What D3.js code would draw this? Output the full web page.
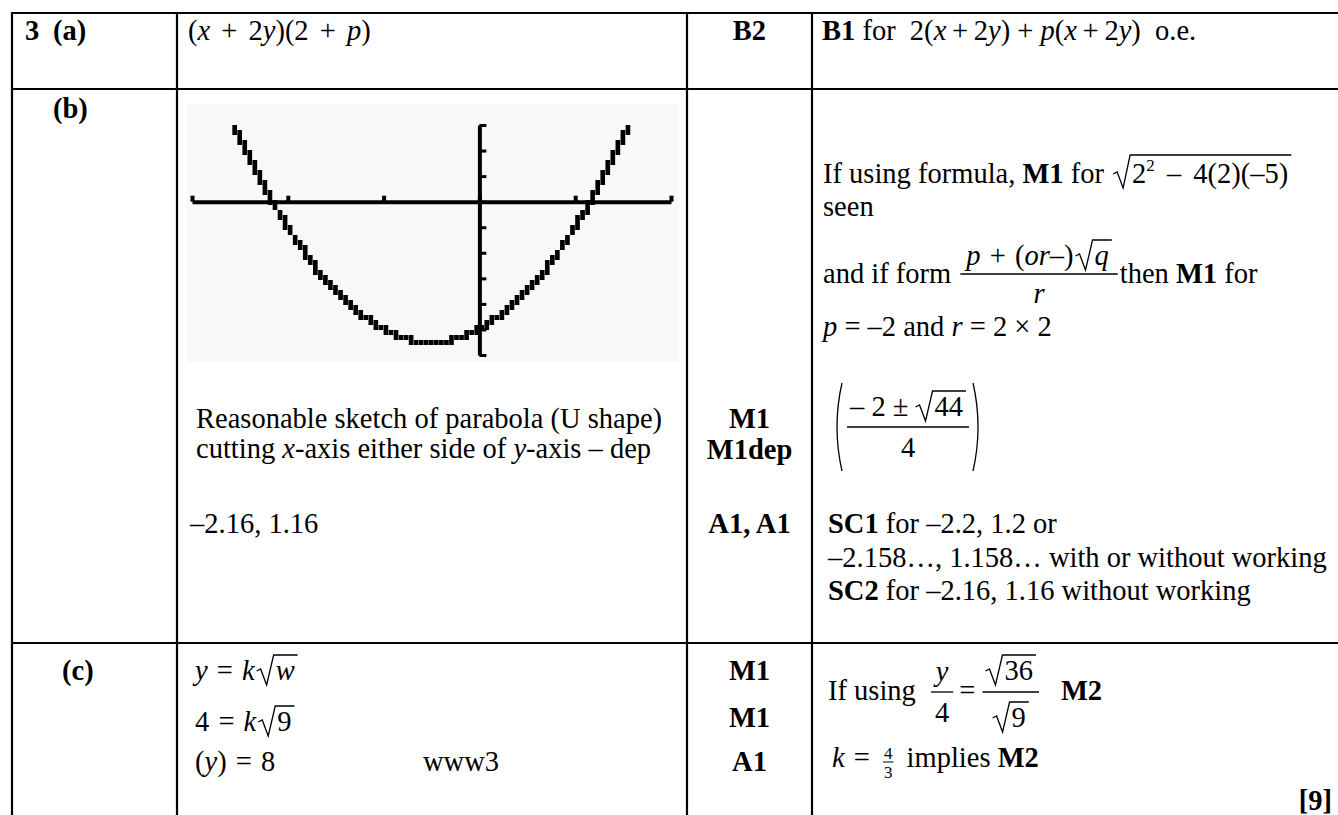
<!DOCTYPE html>
<html>
<head>
<meta charset="utf-8">
<script src="https://cdn.jsdelivr.net/npm/d3@7"></script>
<style>
  body { margin: 0; background: #fff; }
  svg text { font-family: "Liberation Serif", "Times New Roman", serif; font-size: 28.5px; fill: #000; }
</style>
</head>
<body>
<div id="chart"></div>
<script>
const W = 1338, H = 815;

// calculator window of the sketch
const xDomain = [-3, 2];
const yDomain = [-6, 3];
const xTicks = [-3, -2, -1, 0, 1, 2];
const yTicks = [-6, -5, -4, -3, -2, -1, 0, 1, 2, 3];

// points
const curveX = [-2.56, -2.4, -2.2, -2.0, -1.8, -1.6, -1.4, -1.2, -1.0, -0.8, -0.6, -0.4, -0.2, 0, 0.2, 0.4, 0.6, 0.8, 1.0, 1.2, 1.4, 1.56];
const curveY = [3.0, 1.7, 0.3, -1.0, -2.1, -3.1, -3.9, -4.5, -5.0, -5.3, -5.5, -5.5, -5.3, -5.0, -4.5, -3.9, -3.1, -2.1, -1.0, 0.3, 1.7, 3.0];

// mark column labels
const marksB = ["M1", "M1dep"];
const marksC = ["M1", "M1", "A1"];

const svg = d3.select("#chart").append("svg").attr("width", W).attr("height", H);

// ---- text helpers ----
function rich(p, x, y, segs, anchor) {
  const t = p.append("text").attr("x", x).attr("y", y)
    .attr("text-anchor", anchor || "start").style("white-space", "pre");
  let lift = 0;
  segs.forEach(([str, f = ""]) => {
    const sp = t.append("tspan").text(str);
    if (f.includes("b")) sp.attr("font-weight", "bold");
    if (f.includes("i")) sp.attr("font-style", "italic");
    if (f.includes("s")) sp.attr("font-size", 17);
    if (f.includes("^")) { sp.attr("font-size", 17).attr("dy", -12); lift = 12; }
    else if (lift) { sp.attr("dy", lift); lift = 0; }
  });
  return t;
}
const len = t => t.node().getComputedTextLength();

function root(p, x, base, segs, top, ws) {
  const t = rich(p, x + 19, base, segs);
  if (ws) t.style("word-spacing", ws + "px");
  const w = len(t);
  top = top == null ? base - 25 : top;
  p.append("path")
    .attr("d", `M${x},${base - 9}L${x + 4},${base - 11}L${x + 10},${base + 5}L${x + 17},${top}H${x + 22 + w}`)
    .attr("fill", "none").attr("stroke", "#000").attr("stroke-width", 1.3);
  return 22 + w;
}

function frac(p, x, barY, numFn, denFn, o = {}) {
  const gN = p.append("g"), gD = p.append("g");
  const wN = numFn(gN, barY - (o.up || 9));
  const wD = denFn(gD, barY + (o.down || 28));
  const w = Math.max(wN, wD) + (o.pad || 6);
  gN.attr("transform", `translate(${x + (w - wN) / 2},0)`);
  gD.attr("transform", `translate(${x + (w - wD) / 2},0)`);
  p.append("line").attr("x1", x).attr("x2", x + w).attr("y1", barY).attr("y2", barY)
    .attr("stroke", "#000").attr("stroke-width", o.sw || 1.3);
  return x + w;
}
const word = segs => (g, b) => len(rich(g, 0, b, segs));

// ---- table grid ----
const colEdges = [12, 177, 687, 812];
const rowEdges = [13, 89, 643];
svg.selectAll("line.hr").data(rowEdges).enter().append("line")
  .attr("x1", 11).attr("x2", W).attr("y1", d => d).attr("y2", d => d)
  .attr("stroke", "#000").attr("stroke-width", 2.2);
svg.selectAll("line.vr").data(colEdges).enter().append("line")
  .attr("x1", d => d).attr("x2", d => d).attr("y1", 12).attr("y2", H)
  .attr("stroke", "#000").attr("stroke-width", 2.2);

// ---- column 1 ----
rich(svg, 25, 40, [["3", "b"]]);
rich(svg, 53, 40, [["(a)", "b"]]);
rich(svg, 53, 118, [["(b)", "b"]]);
rich(svg, 62, 680, [["(c)", "b"]]);

// ---- column 2 ----
rich(svg, 188, 40, [["("], ["x", "i"], [" + 2"], ["y", "i"], [")(2 + "], ["p", "i"], [")"]]).style("word-spacing", "4px");

// sketch
const gx = d3.scaleLinear().domain(xDomain).range([192, 671]);
const gy = d3.scaleLinear().domain(yDomain).range([355, 125]);
svg.append("rect").attr("x", 187).attr("y", 104).attr("width", 492).attr("height", 258).attr("fill", "#f8f8f8");

const ax = svg.append("g").attr("transform", `translate(0,${gy(0)})`)
  .call(d3.axisBottom(gx).tickValues(xTicks).tickSize(-6).tickSizeOuter(0).tickFormat(""));
ax.select(".domain").attr("stroke-width", 4);
ax.selectAll(".tick line").attr("stroke-width", 4);

const ay = svg.append("g").attr("transform", `translate(${gx(0)},0)`)
  .call(d3.axisRight(gy).tickValues(yTicks).tickSize(7).tickSizeOuter(0).tickFormat(""));
ay.select(".domain").attr("stroke-width", 4);
ay.selectAll(".tick line").attr("stroke-width", 3);

// curve: trace the line through the read points, then show it on the calculator pixel grid
const pts = curveX.map((x, i) => [x, curveY[i]]);
const guide = svg.append("path").datum(pts).attr("fill", "none").attr("stroke", "none")
  .attr("d", d3.line().x(d => gx(d[0])).y(d => gy(d[1])).curve(d3.curveNatural));
const cellW = (gx(xDomain[1]) - gx(xDomain[0])) / 95, cellH = (gy(yDomain[0]) - gy(yDomain[1])) / 46;
const x0 = gx(xDomain[0]), y0 = gy(yDomain[1]);
const node = guide.node(), total = node.getTotalLength();
const cells = new Map();
for (let s = 0; s <= total; s += 0.5) {
  const q = node.getPointAtLength(s);
  const cx = Math.floor((q.x - x0) / cellW), cy = Math.floor((q.y - y0) / cellH);
  cells.set(cx + "," + cy, [cx, cy]);
}
svg.append("g").selectAll("rect").data([...cells.values()]).enter().append("rect")
  .attr("x", d => x0 + d[0] * cellW).attr("y", d => y0 + d[1] * cellH)
  .attr("width", cellW - 0.4).attr("height", cellH).attr("fill", "#000");

rich(svg, 196, 428, [["Reasonable sketch of parabola (U shape)"]]);
rich(svg, 196, 458, [["cutting "], ["x", "i"], ["-axis either side of "], ["y", "i"], ["-axis – dep"]]);
rich(svg, 190, 533, [["–2.16, 1.16"]]);

let t = rich(svg, 195, 680, [["y", "i"], [" = "], ["k", "i"]]).style("word-spacing", "2px");
root(svg, 195 + len(t) + 2, 680, [["w", "i"]]);
t = rich(svg, 195, 731, [["4 = "], ["k", "i"]]).style("word-spacing", "2px");
root(svg, 195 + len(t) + 2, 731, [["9"]]);
rich(svg, 195, 771, [["("], ["y", "i"], [") = 8"]]).style("word-spacing", "2px");
rich(svg, 423, 771, [["www3"]]);

// ---- column 3 ----
const mid = (colEdges[2] + colEdges[3]) / 2;
rich(svg, mid, 40, [["B2", "b"]], "middle");
svg.selectAll("text.mb").data(marksB).enter().append("text").attr("class", "mb")
  .attr("x", mid).attr("y", (d, i) => 428 + i * 31).attr("text-anchor", "middle")
  .attr("font-weight", "bold").text(d => d);
rich(svg, mid, 533, [["A1, A1", "b"]], "middle");
svg.selectAll("text.mc").data(marksC).enter().append("text").attr("class", "mc")
  .attr("x", mid).attr("y", (d, i) => [680, 727, 771][i]).attr("text-anchor", "middle")
  .attr("font-weight", "bold").text(d => d);

// ---- column 4 ----
rich(svg, 822, 40, [["B1", "b"], [" for  2("], ["x", "i"], ["\u2009+\u20092"], ["y", "i"], [") + "], ["p", "i"], ["("], ["x", "i"], ["\u2009+\u20092"], ["y", "i"], [")  o.e."]]);

t = rich(svg, 823, 183, [["If using formula, "], ["M1", "b"], [" for "]]);
root(svg, 823 + len(t) + 2, 183, [["2"], ["2", "^"], [" – 4(2)(–5)"]], 155, 5);
rich(svg, 823, 216, [["seen"]]);

t = rich(svg, 823, 283, [["and if form "]]);
let xe = frac(svg, 823 + len(t) + 2, 274,
  (g, b) => {
    const a = rich(g, 0, b, [["p", "i"], [" + ("], ["or", "i"], ["–)"]]).style("word-spacing", "2px");
    const w1 = len(a) + 2;
    return w1 + root(g, w1, b, [["q", "i"]]);
  },
  word([["r", "i"]]), { down: 29, pad: 12 });
rich(svg, xe + 2, 283, [["then "], ["M1", "b"], [" for"]]);
rich(svg, 823, 336, [["p", "i"], [" = –2 and "], ["r", "i"], [" = 2 × 2"]]);

// (-2 ± √44)/4 in large brackets
const pL = 838;
xe = frac(svg, pL + 9, 427,
  (g, b) => { const w1 = len(rich(g, 0, b, [["– 2 ± "]])); return w1 + root(g, w1, b, [["44"]]); },
  word([["4"]]), { down: 30, up: 11 });
svg.append("path").attr("d", `M${pL + 4},383 Q${pL - 6},427 ${pL + 4},471`).attr("fill", "none").attr("stroke", "#000").attr("stroke-width", 1.3);
svg.append("path").attr("d", `M${xe + 4},383 Q${xe + 14},427 ${xe + 4},471`).attr("fill", "none").attr("stroke", "#000").attr("stroke-width", 1.3);

rich(svg, 828, 533, [["SC1", "b"], [" for –2.2, 1.2 or"]]);
rich(svg, 828, 567, [["–2.158…, 1.158… with or without working"]]);
rich(svg, 828, 600, [["SC2", "b"], [" for –2.16, 1.16 without working"]]);

t = rich(svg, 828, 700, [["If using "]]);
xe = frac(svg, 828 + len(t) + 8, 692, word([["y", "i"]]), word([["4"]]), { up: 11, down: 30, pad: 8 });
t = rich(svg, xe + 6, 700, [["= "]]);
xe = frac(svg, xe + 6 + len(t), 692,
  (g, b) => root(g, 0, b, [["36"]]), (g, b) => root(g, 0, b, [["9"]]), { up: 12, down: 35 });
rich(svg, xe + 22, 700, [["M2", "b"]]);

t = rich(svg, 832, 767, [["k", "i"], [" = "]]).style("word-spacing", "2px");
xe = frac(svg, 832 + len(t) + 4, 762, word([["4", "s"]]), word([["3", "s"]]), { up: 3, down: 16, pad: 2, sw: 1 });
rich(svg, xe + 6, 767, [[" implies "], ["M2", "b"]]);

rich(svg, 1332, 810, [["[9]", "b"]], "end");
</script>
</body>
</html>
